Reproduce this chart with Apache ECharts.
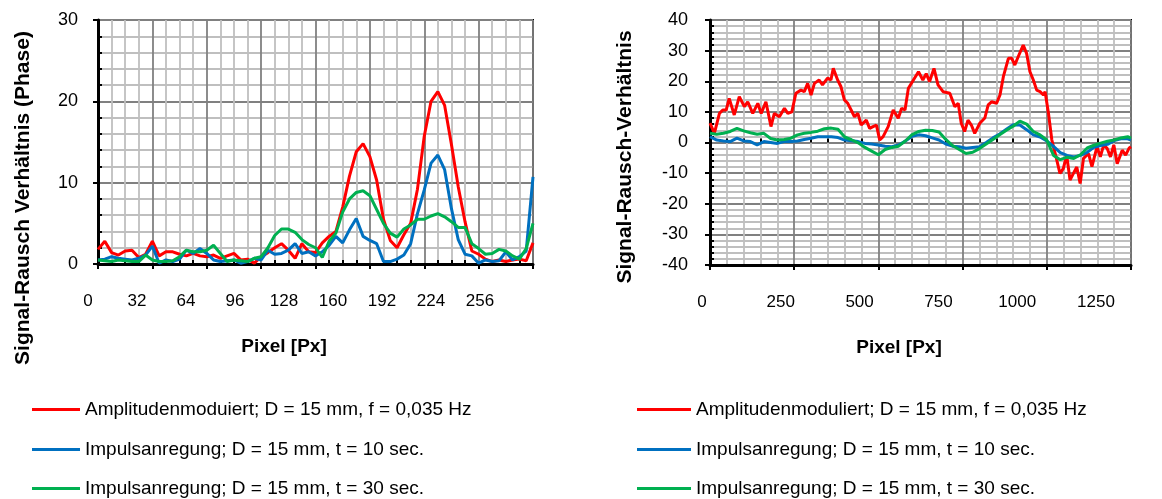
<!DOCTYPE html>
<html>
<head>
<meta charset="utf-8">
<script src="https://cdn.jsdelivr.net/npm/echarts@6/dist/echarts.min.js"></script>
<style>
  html, body { margin: 0; padding: 0; background: #fff; }
  #main { width: 1162px; height: 499px; }
</style>
</head>
<body>
<div id="main"></div>
<script>
// linke Grafik (Phase), Pixel 0..256
var pixelL = [0,4,8,12,16,20,24,28,32,36,40,44,48,52,56,60,64,68,72,76,80,84,88,92,96,100,104,108,112,116,120,124,128,
  132,136,140,144,148,152,156,160,164,168,172,176,180,184,188,192,196,200,204,208,212,216,220,224,228,232,236,240,244,248,252,256];
var amplitudeL = [1.8,2.8,1.4,1.1,1.6,1.7,0.8,1.2,2.8,1.0, 1.5,1.5,1.2,1.0,1.3,1.0,0.9,1.1,0.7,1.0,
  1.3,0.5,0.6,0.1,0.9,1.4,2.0,2.5,1.7,0.7, 2.5,1.5,1.4,2.6,3.4,4.0,7.0,10.8,13.8,14.8,
  13.2,10.3,5.5,2.9,2.0,3.6,5.0,9.2,15.7,20.0, 21.2,19.5,14.7,9.5,5.2,1.6,1.2,0.6,0.3,0.5, 0.3,0.5,0.6,0.4,2.6];
var impuls10L = [0.5,0.6,0.9,0.7,0.6,0.5,0.7,1.1,2.2,0.1, 0.5,0.3,0.6,1.7,1.3,1.9,1.3,0.5,0.3,0.4,
  0.5,0.1,0.3,0.7,0.5,1.7,1.2,1.3,1.7,2.5, 1.3,1.5,1.0,1.5,2.3,3.4,2.6,4.2,5.6,3.4,
  2.9,2.5,0.3,0.3,0.6,1.1,2.5,6.2,9.1,12.4, 13.4,11.6,6.8,3.0,1.2,1.0,0.1,0.5,0.3,0.4, 1.5,0.5,0.9,1.6,10.7];
var impuls30L = [0.5,0.4,0.3,0.5,0.4,0.3,0.3,1.1,0.5,0.3, 0.3,0.4,0.9,1.7,1.5,1.5,1.7,2.3,1.3,0.3,
  0.5,0.4,0.3,0.7,0.9,2.0,3.5,4.3,4.3,3.9, 3.0,2.4,2.0,0.8,2.8,3.8,6.4,8.0,8.8,9.0,
  8.4,6.7,5.0,3.8,3.3,4.3,4.8,5.5,5.5,5.9, 6.2,5.8,5.2,4.5,4.5,2.5,1.9,1.2,1.3,1.8, 1.6,1.0,0.6,1.9,5.0];
var ticksL = [0, 32, 64, 96, 128, 160, 192, 224, 256];

// rechte Grafik, Pixel 0..1250
var pixelAmpR = [0,13,28,38,48,57,72,87,102,112,127,142,152,166,181,191,206,221,231,243,255,270,280,290,300,310,324,334,349,359,
  366,379,389,399,409,419,429,439,449,464,474,484,494,504,514,529,544,559,569,579,589,604,619,632,642,652,665,677,692,712,
  727,737,746,756,766,776,786,801,816,826,836,851,861,871,886,896,905,915,930,940,950,960,970,980,990,995,1005,1015,1025,1039,
  1049,1059,1069,1079,1089,1099,1109,1124,1134,1149,1159,1169,1179,1189,1199,1209,1224,1234,1244,1250];
var amplitudeR = [6.3,3.0,9.5,10.6,10.6,14.4,9.0,15.0,11.7,13.3, 9.5,12.8,9.5,13.3,5.2,9.5,8.4,11.2,9.5,10.0,
  16.1,17.1,16.6,19.3,15.5,19.3,20.4,18.8,21.0,20.4, 24.2,20.4,18.2,13.9,12.8,10.6,8.4,9.5,5.7,7.3,
  4.6,5.2,5.7,0.8,1.9,5.2,10.6,7.9,11.2,10.6, 17.7,20.4,23.1,20.4,22.5,19.9,24.2,18.8,16.6,16.1,
  11.7,12.8,6.3,3.6,7.3,5.7,3.0,6.3,8.0,12.3, 13.3,12.8,15.5,21.5,27.5,27.5,25.3,28.0,31.8,29.1,
  23.1,20.4,17.1,16.6,15.5,16.6,9.5,0.8,-3.6,-10.1, -8.5,-4.1,-12.3,-10.1,-8.0,-13.4,-5.2,-3.6,-7.9,-1.4,
  -4.7,-0.8,-1.9,-4.7,-0.8,-6.9,-2.5,-4.1,-1.9,-1.4];
var pixelR = [0,20,40,60,80,100,120,140,160,180,200,220,240,260,280,300,320,340,360,380,400,420,440,460,480,500,
  520,540,560,580,600,620,640,660,680,700,720,740,760,780,800,820,840,860,880,900,920,940,960,980,1000,
  1020,1040,1060,1080,1100,1120,1140,1160,1180,1200,1220,1240,1250];
var impuls10R = [1.9,0.8,0.5,0.3,1.4,0.5,0.3,-0.8,0.3,0.0, -0.3,0.3,0.3,0.5,1.0,1.4,1.9,1.9,1.9,1.6,
  0.8,0.6,0.3,-0.3,-0.5,-0.8,-1.2,-1.4,-0.8,0.5, 2.0,2.5,2.2,1.5,0.8,-0.5,-1.2,-1.4,-1.9,-1.6,
  -1.4,0.0,1.5,2.8,4.3,5.8,5.7,4.2,2.5,1.8, 0.5,-1.3,-3.3,-4.2,-4.7,-4.2,-3.2,-1.6,-1.0,-0.6, 0.6,1.2,1.2,0.8];
var impuls30R = [3.0,2.7,3.0,3.6,4.6,3.8,3.2,2.7,3.0,1.3, 0.8,1.0,1.4,2.5,3.0,3.3,3.7,4.5,4.7,4.3,
  1.8,0.9,-0.1,-1.6,-2.8,-4.0,-2.3,-1.6,-1.2,0.5, 2.6,3.6,4.0,3.9,3.4,1.0,-1.0,-2.3,-3.6,-3.2,
  -2.0,-0.5,1.0,2.5,4.0,5.3,7.0,6.0,3.6,2.5, 0.8,-4.2,-5.6,-4.8,-5.2,-4.0,-1.8,-0.9,-0.2,0.4, 0.8,1.5,1.9,1.4];
var ticksR = [0, 250, 500, 750, 1000, 1250];

var namesL = ['Amplitudenmoduiert; D = 15 mm, f = 0,035 Hz', 'Impulsanregung; D = 15 mm, t = 10 sec.', 'Impulsanregung; D = 15 mm, t = 30 sec.'];
var namesR = ['Amplitudenmoduliert; D = 15 mm, f = 0,035 Hz', 'Impulsanregung; D = 15 mm, t = 10 sec.', 'Impulsanregung; D = 15 mm, t = 30 sec.'];
var colors = ['#ff0000', '#0070c0', '#00b050'];

var FONT = '"Liberation Sans", Arial, sans-serif';

function pairs(xs, ys) {
  return xs.map(function (x, i) { return [x, ys[i]]; });
}

// Achse mit Gitter (Haupt- und Nebenlinien), Beschriftung in eigener Achse
function mainAxis(gi, min, max, step, minorN, pos) {
  return {
    type: 'value', gridIndex: gi, position: pos, min: min, max: max, interval: step,
    axisLine: { show: true, onZero: false, lineStyle: { color: '#000', width: 3 } },
    axisTick: { show: true, length: 5, lineStyle: { color: '#000', width: 2 } },
    axisLabel: { show: false },
    splitLine: { show: true, lineStyle: { color: '#808080', width: 1.8 } },
    minorTick: { show: false, splitNumber: minorN },
    minorSplitLine: { show: true, lineStyle: { color: '#bfbfbf', width: 1.8 } }
  };
}
// nur die kleinen Striche nach innen
function innerTicks(gi, min, max, step, minorN, pos) {
  return {
    type: 'value', gridIndex: gi, position: pos, min: min, max: max, interval: step,
    axisLine: { show: false }, axisLabel: { show: false }, splitLine: { show: false },
    axisTick: { show: false, inside: true },
    minorTick: { show: true, splitNumber: minorN, length: 4, lineStyle: { color: '#000', width: 2 } }
  };
}
function labelAxis(gi, ticks) {
  return {
    type: 'value', gridIndex: gi, position: 'bottom', min: ticks[0], max: ticks[ticks.length - 1],
    interval: ticks[1] - ticks[0],
    axisLine: { show: false }, axisTick: { show: false }, splitLine: { show: false },
    axisLabel: { show: true, margin: 29, fontSize: 17, fontFamily: FONT, color: '#000',
      formatter: function (v) { return String(v); } },
    name: 'Pixel [Px]', nameLocation: 'middle', nameGap: 73,
    nameTextStyle: { fontSize: 19, fontWeight: 'bold', fontFamily: FONT, color: '#000' }
  };
}
function hiddenAxis(gi) {
  return { type: 'value', gridIndex: gi, show: false, min: 0, max: 1 };
}

function makeSeries(xsList, list, names, xi, yi) {
  return list.map(function (ys, k) {
    return {
      name: names[k], type: 'line', xAxisIndex: xi, yAxisIndex: yi,
      data: pairs(xsList[k], ys), showSymbol: false, symbol: 'none',
      color: colors[k], lineStyle: { color: colors[k], width: 3 }
    };
  });
}

// eine Legende pro Eintrag, damit nichts umbricht
var legendRows = [400, 440, 479];
function legendItem(left, top, w, name) {
  return {
    left: left, top: top, itemWidth: w, itemHeight: 3, icon: 'rect', padding: 0,
    data: [name], selectedMode: false,
    textStyle: { fontSize: 19, fontFamily: FONT, color: '#000' }
  };
}
var legends = [];
namesL.forEach(function (n, i) { legends.push(legendItem(32, legendRows[i], 48, n)); });
namesR.forEach(function (n, i) { legends.push(legendItem(637, legendRows[i], 54, n)); });

var yLabelL = { show: true, margin: 20, fontSize: 18, fontFamily: FONT, color: '#000' };
var yLabelR = { show: true, margin: 22, fontSize: 18, fontFamily: FONT, color: '#000' };

var axL = mainAxis(0, 0, 30, 10, 5, 'left'); axL.axisLabel = yLabelL;
var axR = mainAxis(1, -40, 40, 10, 5, 'left'); axR.axisLabel = yLabelR;

var option = {
  animation: false,
  backgroundColor: '#fff',
  grid: [
    { left: 98, top: 20, width: 435, height: 244, show: true, backgroundColor: '#fff', borderColor: '#000', borderWidth: 2 },
    { left: 710, top: 20, width: 421, height: 245, show: true, backgroundColor: '#fff', borderColor: '#000', borderWidth: 2 },
    { left: 88, top: 20, width: 392, height: 244 },
    { left: 702, top: 20, width: 394, height: 245 }
  ],
  xAxis: [
    mainAxis(0, 0, 256, 32, 4, 'bottom'),
    innerTicks(0, 0, 256, 32, 4, 'bottom'),
    mainAxis(1, 0, 1250, 250, 5, 'bottom'),
    innerTicks(1, 0, 1250, 250, 5, 'bottom'),
    labelAxis(2, ticksL),
    labelAxis(3, ticksR)
  ],
  yAxis: [
    axL,
    innerTicks(0, 0, 30, 10, 5, 'left'),
    axR,
    innerTicks(1, -40, 40, 10, 5, 'left'),
    hiddenAxis(2),
    hiddenAxis(3)
  ],
  legend: legends,
  graphic: [
    { type: 'text', x: 23, y: 198, rotation: Math.PI / 2,
      style: { text: 'Signal-Rausch Verhältnis (Phase)', fontSize: 21, fontWeight: 'bold', fontFamily: FONT,
        fill: '#000', align: 'center', verticalAlign: 'middle' } },
    { type: 'text', x: 625, y: 157, rotation: Math.PI / 2,
      style: { text: 'Signal-Rausch-Verhältnis', fontSize: 21, fontWeight: 'bold', fontFamily: FONT,
        fill: '#000', align: 'center', verticalAlign: 'middle' } }
  ],
  series: makeSeries([pixelL, pixelL, pixelL], [amplitudeL, impuls10L, impuls30L], namesL, 0, 0)
    .concat(makeSeries([pixelAmpR, pixelR, pixelR], [amplitudeR, impuls10R, impuls30R], namesR, 2, 2))
};

var chart = echarts.init(document.getElementById('main'));
chart.setOption(option);
</script>
</body>
</html>
